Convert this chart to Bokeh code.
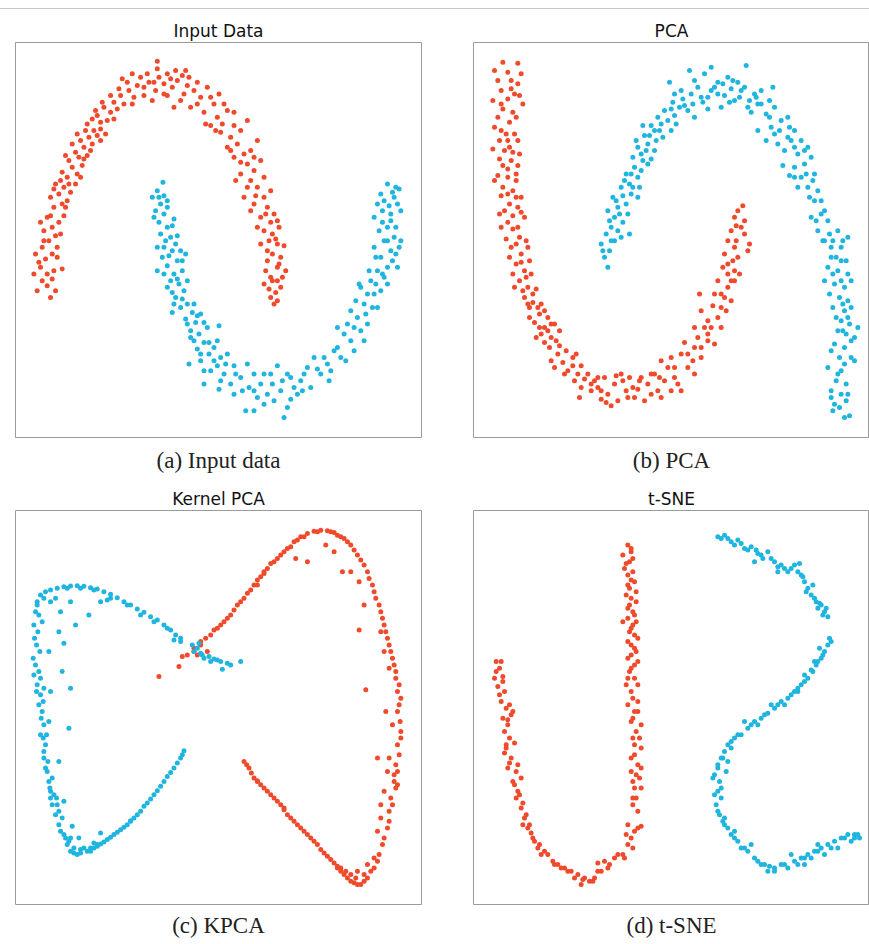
from bokeh.plotting import figure
from bokeh.models import Range1d, Title, Div, Spacer
from bokeh.layouts import column, row
from bokeh.embed import file_html
from bokeh.resources import INLINE

RED = "#f04a2c"
CYAN = "#1fb5de"

# ---------------- data (embedding coordinates, arbitrary units) ----------------
titles = ["Input Data", "PCA", "Kernel PCA", "t-SNE"]
captions = ["(a) Input data", "(b) PCA", "(c) KPCA", "(d) t-SNE"]

a_red = [(110,750),(150,770),(165,750),(125,720),(140,700),(160,690),(120,680),(185,685),(105,640),(135,655),
         (155,640),(170,620),(125,620),(145,600),(165,585),(130,570),(155,560),(175,545),(140,530),(190,525),
         (160,500),(185,490),(200,480),(150,470),(175,460),(210,455),(190,440),(160,445),(225,430),
         (200,410),(230,400),(185,395),(215,380),(245,375),(205,360),(235,350),(260,345),(225,335),
         (250,320),(275,310),(240,300),(265,290),(290,285),(230,280),(280,270),(300,265),
         (260,250),(300,245),(320,240),(290,225),(330,215),(310,200),(350,205),(285,210),(370,190),(340,185),
         (360,165),(385,150),(400,170),(410,135),(380,125),(430,140),(420,110),(445,125),(455,180),(440,100),
         (470,62),(475,110),(490,130),(500,100),(515,140),(530,120),(545,105),(555,90),(560,135),(490,160),
         (520,200),(540,180),(465,150),
         (580,150),(600,170),(620,140),(640,190),(655,160),(570,200),(610,215),(650,230),(680,210),(700,215),
         (665,250),(630,255),
         (660,275),(690,290),(720,270),(740,240),(680,320),(710,310),(730,340),(770,300),(750,330),(700,350),
         (740,370),(760,390),(780,360),(720,400),(750,420),(790,410),(770,440),(810,450),(740,440),(790,470),
         (760,490),(800,500),(820,520),(780,530),(810,545),(835,560),(790,570),(815,580),
         (805,600),(830,610),(850,615),(815,640),(840,650),(800,660),(830,680),(855,690),(795,690),
         (810,710),(830,720),(805,745),(825,755),(820,790),(845,710),
         (115,665),(140,735),(155,715),(100,700),(130,600),(170,650),(150,525),(120,545),(180,580),(195,500),
         (165,430),(205,430),(180,420),(240,410),(195,345),(250,355),(215,310),(270,330),(300,300),(255,270),
         (315,280),(275,235),(340,235),(305,185),(330,165),(355,145),(395,190),(365,115),(395,100),(430,165),
         (460,125),(470,85),(500,165),(525,90),(510,115),(550,160),(565,110),(590,125),(590,190),(630,170),
         (615,250),(670,190),(645,270),(700,255),(690,330),(720,365),(760,350),(705,420),(765,465),(730,470),
         (750,510),(795,520),(770,560),(830,540),(800,630),(825,595),(780,610),(835,670),(815,720),(790,730),
         (840,740),(810,770),(830,780)]

a_cyan = [(487,425),(470,450),(490,465),(455,470),(480,490),(500,480),(465,510),(490,520),(520,535),(475,545),(500,560),
          (480,580),(510,590),(525,610),(490,620),(540,630),(505,645),(530,660),(555,640),(470,690),(500,675),(520,700),(545,690),
          (510,720),(535,730),(515,755),(550,750),(525,770),(560,790),(540,800),(575,815),(515,815),(590,825),(555,835),(600,820),
          (570,870),(595,880),(620,860),(580,900),(610,905),(640,920),(590,925),(625,940),(655,855),(660,950),(600,960),(565,970),
          (680,940),(650,975),
          (630,990),(670,1000),(700,975),(720,1010),(690,1030),(740,970),(745,1040),(760,1000),(780,1030),(800,1060),
          (810,1000),(830,975),(770,1070),(820,1080),(840,1050),(860,1000),(760,1110),(850,1130),(880,1040),(900,1020),
          (870,1075),(735,1110),(655,1045),(610,1030),
          (920,980),(940,950),(960,1000),(980,970),(930,1040),(1000,930),(990,990),(1020,950),(1050,900),(1030,880),
          (1060,930),(1010,860),(1080,870),
          (1070,830),(1100,850),(1050,810),(1090,790),(1115,800),(1120,760),(1080,740),(1110,720),(1140,750),(1150,710),(1075,730),
          (1130,690),(1160,680),(1190,680),(1140,650),(1170,630),(1120,620),(1150,600),(1180,590),(1200,600),(1160,560),(1135,570),
          (1120,530),(1145,510),(1170,520),(1150,480),(1180,470),(1140,460),(1160,430),(1195,445),(1185,440),(1165,495),
          (475,470),(500,500),(460,530),(515,555),(495,600),(470,620),(530,585),(485,650),(515,630),(545,660),
          (490,700),(530,715),(560,720),(500,740),(545,775),(520,790),(580,790),(560,850),(585,845),(610,845),
          (570,890),(600,940),(625,905),(650,900),(640,960),(610,990),(675,970),(705,1000),(660,1020),(725,1050),
          (700,1060),(760,1050),(790,1000),(790,1090),(815,1030),(845,1020),(870,1010),(890,1060),(860,1100),(910,1000),
          (950,985),(905,1050),(970,950),(985,1020),(1010,920),(1035,960),(1040,850),(1060,860),(1090,900),(1095,820),
          (1065,780),(1130,800),(1100,760),(1125,730),(1160,730),(1105,690),(1145,700),(1175,660),(1185,640),(1125,650),
          (1160,600),(1195,620),(1185,560),(1170,540),(1145,545),(1200,510),(1130,490),(1190,490),(1175,455)]

b_red = [(185,65),(230,68),(240,100),(210,120),(180,150),(220,160),(155,180),(200,175),(245,190),(185,205),
         (215,215),(170,230),(205,245),(180,270),(220,280),(200,300),(155,325),(190,330),(215,335),(175,355),
         (210,360),(230,375),(170,405),(200,410),(225,420),(185,440),(215,450),(240,470),(180,465),(205,490),
         (230,500),(175,520),(215,525),(250,530),(200,545),(230,560),(195,595),(235,590),(255,600),(210,620),
         (240,640),(265,660),(225,670),(250,690),(270,700),(235,720),(260,740),(285,745),(250,770),(275,785),
         (300,790),(265,800),(295,820),(320,830),(280,845),(310,860),(340,850),(300,880),(330,890),(355,870),
         (325,920),(350,940),(375,930),(330,960),(365,965),(395,950),(380,990),(410,1000),(420,975),(440,1000),
         (400,1020),(460,1020),(415,1070),(450,1050),(470,1040),(490,1010),(500,1060),(510,1095),(480,1075),(520,1030),
         (540,1000),(555,1050),(575,1040),(560,1070),(545,1020),(600,1010),(590,1045),(620,1030),(610,1080),(640,1000),
         (630,1060),(660,960),(670,1020),(650,1050),(680,980),(700,1010),(720,1050),(690,950),(720,940),(740,980),
         (760,1000),(730,905),(760,920),(780,950),(770,890),(800,880),(790,860),(820,910),(760,860),(800,840),
         (830,830),(780,810),(815,795),(840,800),(850,770),(820,760),(860,740),(775,760),(830,720),(860,700),
         (880,690),(845,680),(875,660),(890,650),(860,600),(880,620),(850,640),(895,700),(870,570),(885,555),
         (910,540),(880,530),(905,495),(925,610),(920,630),(910,580),
         (160,90),(200,95),(230,130),(170,120),(210,145),(235,165),(180,190),(225,230),(160,260),(195,280),
         (230,300),(175,300),(205,320),(235,340),(185,375),(200,385),(225,400),(160,420),(200,460),(225,470),
         (190,510),(240,515),(215,565),(180,560),(225,610),(260,620),(205,650),(240,665),(215,700),(255,710),
         (245,750),(275,760),(220,740),(260,790),(290,800),(310,810),(265,830),(330,850),(295,860),(285,890),
         (320,870),(345,900),(310,905),(355,915),(340,980),(370,1000),(395,975),(405,940),(430,1015),(450,1030),
         (420,1040),(470,1010),(480,1050),(495,1085),(530,1080),(525,1005),(565,1010),(580,1070),(595,1020),(630,1000),
         (655,1010),(660,1070),(700,980),(710,1030),(690,1050),(740,940),(755,960),(780,920),(800,900),(840,860),
         (810,860),(855,810),(870,780),(880,720),(840,760),(870,720),(885,600),(900,560),(890,510),(860,670)]

b_cyan = [(500,680),(490,650),(480,610),(505,630),(520,600),(495,580),(530,570),(510,560),(545,545),(520,530),
          (565,580),(500,510),(530,500),(555,490),(515,470),(545,465),(570,460),(590,470),(540,440),(565,430),
          (590,410),(555,400),(580,380),(600,390),(620,370),(575,350),(600,340),(630,355),(590,320),(620,310),
          (645,300),(610,285),(640,270),(665,290),(605,255),(630,255),(660,250),(690,270),(680,240),(700,225),
          (670,210),(715,200),(695,185),(725,175),(740,210),(760,230),(745,90),(685,125),(720,150),(750,160),
          (770,140),(790,100),(785,185),(800,170),(810,80),(820,140),(830,125),(840,200),(850,165),(860,110),
          (870,145),(880,180),(890,125),(900,150),(915,75),(920,200),(930,215),(945,170),(940,160),(960,190),
          (975,220),(995,140),(985,230),(1000,200),(950,270),(975,300),(1000,280),(1020,240),(1040,230),(1010,310),
          (1030,330),(1050,300),(1060,270),(1045,260),(1070,340),(1080,300),(1100,320),(1025,375),(1060,380),(1090,370),
          (1110,350),(1045,405),(1080,410),(1120,400),(1100,440),(1130,450),(1070,440),(1120,480),(1140,520),(1110,530),
          (1160,540),(1130,570),(1165,580),(1150,600),(1190,570),(1220,590),(1170,620),(1200,620),(1185,650),(1215,660),
          (1160,680),(1190,690),(1150,720),(1180,730),(1210,740),(1230,720),(1195,770),(1220,780),(1175,800),(1210,810),
          (1200,840),(1225,850),(1190,870),(1215,880),(1250,860),(1180,910),(1210,920),(1240,890),(1195,950),(1230,950),
          (1160,980),(1200,990),(1185,1020),(1215,1030),(1170,1050),(1200,1060),(1180,1090),(1215,1080),(1175,1110),
          (1210,1130),(1225,1125),
          (485,630),(510,600),(540,590),(505,540),(535,520),(560,520),(525,480),(575,440),(550,420),(595,440),
          (605,360),(570,400),(615,330),(640,330),(585,300),(625,285),(655,270),(650,230),(690,205),(705,250),
          (700,160),(730,195),(755,190),(760,120),(780,170),(810,150),(800,205),(830,160),(845,130),(865,185),
          (875,120),(895,170),(910,140),(925,180),(950,190),(960,150),(985,180),(990,260),(1015,270),(1040,290),
          (1060,320),(1090,330),(1060,410),(1095,400),(1115,420),(1105,470),(1140,480),(1150,510),(1125,540),(1145,600),
          (1175,600),(1205,600),(1170,650),(1200,660),(1175,700),(1220,700),(1200,720),(1165,760),(1205,790),(1230,800),
          (1185,830),(1220,830),(1205,870),(1230,900),(1170,930),(1210,970),(1240,960),(1190,1000),(1170,1070),(1195,1100),
          (1220,1060)]

c_cyan = [(110,290),(120,270),(135,260),(150,255),(170,250),(190,245),(210,243),(230,242),(250,244),(270,248),
          (290,252),(310,260),(330,268),(350,278),(370,290),(390,300),(410,312),(430,322),(450,335),(470,345),
          (490,360),(510,375),(525,390),(540,400),(520,405),(575,420),(590,430),(600,445),(610,460),(625,455),
          (640,462),(660,470),(690,480),(720,470),(665,493),(595,415),(150,290),(165,280),(210,290),(180,320),
          (225,360),(265,330),(300,290),(320,285),
          (105,320),(100,360),(112,380),(108,420),(98,460),(115,500),(100,510),(110,540),(120,570),(115,600),
          (125,620),(130,660),(120,690),(135,720),(130,760),(140,800),(145,830),(150,860),(155,900),(165,930),
          (175,960),(190,990),(205,1010),(220,1030),(240,1045),(260,1040),(130,740),(145,650),(128,590),(150,880),
          (170,900),(200,1020),(185,940),
          (175,380),(190,415),(185,500),(210,550),(205,670),(150,560),(175,770),(190,890),(215,965),(235,1000),
          (280,1015),(300,985),(145,440),
          (280,1030),(300,1018),(320,1005),(340,990),(360,975),(380,960),(400,940),(420,920),(440,895),(460,870),
          (480,845),(500,815),(520,790),(540,760),(550,738),(430,905),(470,858),(390,950),
          (110,300),(115,330),(125,350),(102,400),(118,440),(105,480),(120,520),(130,550),(108,560),(122,640),
          (138,690),(128,700),(142,770),(135,790),(155,820),(148,850),(160,870),(168,880),(175,920),(180,980),
          (210,1040),(230,1050),(250,1030),(210,1000),(195,1000),(270,1030),(240,1035),(220,1045),(270,1040),(290,1020),
          (130,280),(200,250),(240,250),(280,255),(330,280),(380,300),(420,330),(460,350),(500,370),(540,410),
          (580,440),(605,450),(630,470),(650,465),(680,475),
          (290,1025),(310,1012),(330,998),(350,983),(370,968),(390,948),(410,930),(450,883),(490,830),(510,803),
          (530,775),(545,750)]

c_red = [(475,515),(535,485),(545,455),(580,440),(600,420),(615,400),(640,375),(660,360),(680,340),(700,315),
         (720,290),(740,265),(760,240),(780,215),(800,190),(820,170),(840,150),(860,130),(880,110),(900,95),
         (920,85),(940,78),(960,75),(980,77),(1000,82),(1020,95),(1040,110),(1060,135),(1080,165),(1100,200),
         (1115,240),(1125,280),(1140,320),(1150,360),(1160,400),(1170,440),(1180,480),(1185,520),(1190,560),(1195,600),
         (1198,650),(1200,700),(1195,750),(1190,800),(1185,850),(1175,900),(1165,950),(1150,1000),(1135,1050),(1120,1090),
         (1100,1120),(1080,1140),(1060,1135),(1040,1120),(1020,1100),
         (885,160),(920,170),(975,120),(1000,140),(1025,200),(1050,200),(1075,230),(1090,300),(1075,375),(1140,380),
         (1150,440),(1165,490),(1095,555),(1155,620),(1175,660),(1130,760),(1165,760),(1160,800),(1180,830),(1140,900),
         (1150,860),(1140,940),(1130,980),(1100,1080),(1120,1060),(1070,1100),(1010,1090),(580,430),(590,450),(620,440),
         (770,225),(790,200),(650,370),(810,175),
         (730,770),(745,790),(760,820),(780,840),(800,860),(820,880),(840,900),(860,930),(880,950),(900,970),
         (920,990),(940,1010),(960,1035),(980,1055),(1000,1075),(1020,1090),(1050,1110),(770,830),(850,915),
         (560,450),(600,410),(630,390),(670,350),(690,330),(710,300),(730,280),(750,255),(770,240),(790,205),
         (830,160),(850,140),(870,125),(890,105),(910,95),(950,80),(990,80),(1010,90),(1030,100),(1050,120),
         (1070,150),(1090,180),(1105,220),(1120,260),(1135,300),(1145,340),(1155,380),(1165,420),(1175,460),(1185,500),
         (1195,540),(1200,580),(1190,620),(1200,680),(1190,720),(1185,780),(1180,810),(1190,840),(1170,880),(1165,920),
         (1160,970),(1145,1020),(1130,1070),(1110,1100),(1090,1130),(1070,1140),(1050,1130),(1030,1110),(1065,1120),(1090,1110),
         (738,780),(752,805),(770,828),(790,850),(810,870),(830,890),(850,910),(870,940),(890,960),(910,980),
         (930,1000),(950,1020),(970,1045),(990,1065),(1010,1085),(1035,1100)]

d_red = [(165,470),(175,490),(160,520),(185,515),(170,545),(190,560),(180,590),(195,610),(210,630),(185,640),
         (200,660),(215,620),
         (195,720),(220,715),(190,745),(210,760),(200,790),(225,800),(215,830),(240,820),(235,870),(245,895),
         (225,880),(250,940),(265,960),(245,960),(270,985),(280,1010),(295,1020),(300,1050),(320,1050),(335,1070),
         (350,1080),(370,1090),(390,1100),(410,1110),(430,1120),(445,1130),(420,1140),(400,1120),(460,1120),(480,1100),
         (500,1090),(470,1075),(490,1070),(520,1060),(545,1050),(560,1020),(555,990),(580,980),(600,965),(570,1000),
         (575,900),(585,880),(580,850),(595,820),(570,800),(590,780),(580,750),(600,730),(575,700),(585,680),
         (570,650),(600,660),(580,620),(560,600),(590,590),(570,560),(555,540),(580,520),(565,500),(580,480),
         (560,460),(585,440),(570,420),(590,400),(565,380),(575,360),(545,350),(580,330),(560,310),(585,290),
         (555,270),(565,250),(580,230),(560,210),(550,190),(565,170),(545,150),(570,130),(560,120),(575,160),
         (570,140),(555,175),(575,200),(570,225),(560,240),(585,260),(570,280),(565,300),(575,320),(560,340),
         (585,350),(570,370),(580,390),(560,410),(580,430),(570,450),(590,470),(570,490),(560,520),(590,540),
         (575,580),(590,620),(575,640),(595,700),(580,720),(570,760),(600,790),(585,810),(575,830),(600,850),
         (575,880),(590,920),(560,960),(590,970),(575,1030),(550,1060),(530,1050),(505,1080),(470,1100),(455,1130),
         (425,1125),(380,1100),(360,1090),(340,1080),(310,1040),(290,1030),(275,1000),(260,970),(255,930),(240,910),
         (230,860),(220,840),(230,780),(205,775),(195,730),(205,700),(190,680),(200,645),(205,600),(175,570),
         (185,530),(165,500),(180,470)]

d_cyan = [(830,95),(850,90),(870,110),(890,105),(910,130),(930,125),(950,145),(965,160),(980,140),(1000,170),
          (1020,180),(1040,200),(1060,180),(1075,175),(1080,210),(1090,230),(1100,250),(1115,240),(1110,270),(1125,290),
          (1140,300),(1150,320),(1130,310),(1145,330),(940,170),(1010,200),
          (1165,400),(1160,420),(1150,440),(1140,460),(1125,480),(1110,495),(1100,520),(1080,540),(1060,560),(1040,580),
          (1020,590),(1000,610),(980,625),(960,640),(940,650),(920,670),(900,690),(880,700),(860,720),(850,740),
          (840,760),(830,790),(820,810),(835,830),(830,860),(840,880),(825,900),(835,930),(845,950),(860,970),
          (870,990),(890,1010),(900,1030),(920,1040),(940,1060),(960,1080),(980,1100),(1000,1100),(1020,1080),(1040,1090),
          (1060,1070),(1080,1060),(1100,1050),(1120,1040),(1140,1030),(1160,1020),(1180,1010),(1200,1000),(1220,990),(1240,990),
          (1255,1000),(1130,1020),(1110,1060),(1090,1080),
          (1120,470),(1135,430),(1090,510),(1070,560),(1030,600),(990,600),(950,660),(910,650),(870,730),(860,770),
          (855,800),(850,940),(880,1000),(930,1020),(985,1085),(1050,1050),(1150,1050),(1190,1030),(1230,1010),
          (840,100),(860,100),(880,120),(900,115),(920,135),(945,135),(960,150),(990,160),(1010,185),(1030,190),
          (1050,190),(1070,200),(1085,215),(1095,260),(1120,280),(1135,295),(1155,310),(1160,335),(1170,410),(1145,450),
          (1130,470),(1115,500),(1090,530),(1070,550),(1050,570),(1010,600),(970,630),(930,660),(890,690),(870,710),
          (845,760),(830,780),(815,820),(840,850),(820,870),(830,920),(850,960),(880,980),(910,1030),(950,1070),
          (970,1080),(1000,1090),(1030,1080),(1070,1080),(1090,1060),(1130,1040),(1170,1030),(1210,1000),(1240,1000),
          (1250,990)]

# axis extents of each panel (x: left..right, y: bottom..top)
a_xr, a_yr = (45, 1262), (1190, 6)
b_xr, b_yr = (97, 1285), (1190, 6)
c_xr, c_yr = (45, 1262), (1200, 16)
d_xr, d_yr = (97, 1285), (1200, 16)


def panel(title, caption, red, cyan, xr, yr, width, height, left, right, top, bottom,
          cap_standoff, shift=0):
    p = figure(width=width, height=height, output_backend="svg", toolbar_location=None, tools="",
               x_range=Range1d(*xr), y_range=Range1d(*yr),
               x_axis_location=None, y_axis_location=None,
               min_border_left=left, min_border_right=right,
               min_border_top=top, min_border_bottom=bottom)
    p.grid.visible = False
    p.outline_line_color = "#9a9a9a"
    p.outline_line_width = 1
    p.background_fill_color = "white"
    p.border_fill_color = "white"
    p.title.text = title
    p.title.align = "center"
    p.title.text_font = "DejaVu Sans"
    p.title.text_font_size = "17px"
    p.title.text_font_style = "normal"
    p.title.text_color = "#111111"
    p.title.standoff = 4
    p.title.offset = shift
    p.add_layout(Title(text=caption, align="center", text_font="Liberation Serif",
                       text_font_size="23px", text_font_style="normal", text_color="#222222",
                       standoff=cap_standoff), "below")
    p.scatter([q[0] for q in red], [q[1] for q in red], size=5, fill_color=RED, line_color=None)
    p.scatter([q[0] for q in cyan], [q[1] for q in cyan], size=5, fill_color=CYAN, line_color=None)
    return p


# thin grey rule across the top of the page
gap = Spacer(width=869, height=8)
rule = Div(text="", width=869, height=1,
           styles={"background-color": "#c8c8c8", "margin": "0", "padding": "0", "overflow": "hidden"})

pa = panel(titles[0], captions[0], a_red, a_cyan, a_xr, a_yr, 447, 471, 15, 26, 33, 43, 16)
pb = panel(titles[1], captions[1], b_red, b_cyan, b_xr, b_yr, 422, 471, 26, 0, 33, 43, 16, shift=5)
pc = panel(titles[2], captions[2], c_red, c_cyan, c_xr, c_yr, 447, 464, 15, 26, 30, 39, 13)
pd = panel(titles[3], captions[3], d_red, d_cyan, d_xr, d_yr, 422, 464, 26, 0, 30, 39, 13, shift=5)

layout = column(gap, rule, row(pa, pb), row(pc, pd))

open("out.html", "w").write(file_html(layout, INLINE))
